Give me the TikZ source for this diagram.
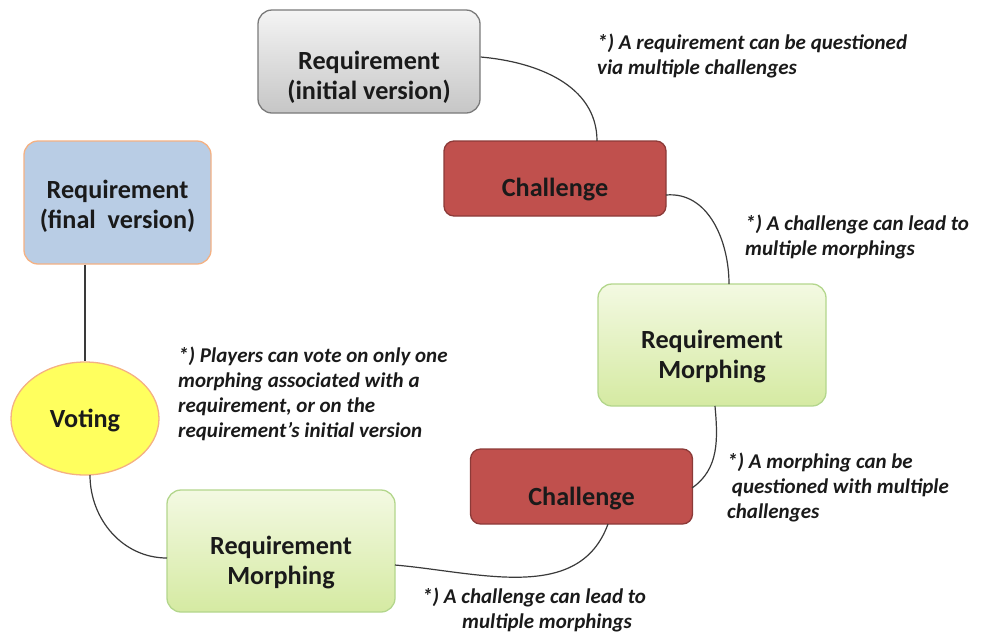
\documentclass[tikz,border=0pt]{standalone}
\usepackage{fontspec}
\setmainfont{Carlito}
\usetikzlibrary{shapes.geometric}
\definecolor{chfill}{HTML}{C0504D}
\definecolor{chdraw}{HTML}{8C3A38}
\definecolor{bluefill}{HTML}{B9CDE5}
\definecolor{peach}{HTML}{F4B183}
\definecolor{yel}{HTML}{FFFF5E}
\definecolor{gtop}{HTML}{F3F9E2}
\definecolor{gbot}{HTML}{D5EAA2}
\definecolor{gdraw}{HTML}{B3D68C}
\definecolor{graytop}{HTML}{F4F4F4}
\definecolor{graybot}{HTML}{C6C6C6}
\definecolor{graydraw}{HTML}{7A7A7A}
\definecolor{linec}{HTML}{3A3A3A}
\definecolor{txt}{HTML}{1A1A1A}
\begin{document}
\begin{tikzpicture}[x=1pt,y=-1pt,
  box/.style={rectangle,rounded corners=14pt,line width=1.3pt,inner sep=0pt},
  grayb/.style={box,draw=graydraw,top color=graytop,bottom color=graybot,minimum width=222pt,minimum height=103pt},
  chalb/.style={box,rounded corners=10pt,draw=chdraw,fill=chfill,minimum width=222pt,minimum height=75pt},
  blueb/.style={box,draw=peach,fill=bluefill,minimum width=187pt,minimum height=123pt},
  greenb/.style={box,draw=gdraw,top color=gtop,bottom color=gbot,minimum width=228pt,minimum height=122pt},
  voteb/.style={ellipse,draw=peach,line width=1.3pt,fill=yel,minimum width=148pt,minimum height=113pt,inner sep=0pt},
  btxt/.style={font=\fontsize{26.2}{30}\selectfont\bfseries,text=txt,align=center,inner sep=0pt},
  note/.style={font=\fontsize{21}{25}\selectfont\bfseries\itshape,text=txt,align=left,anchor=north west,inner sep=0pt},
  conn/.style={draw=linec,line width=1.2pt}
]
\useasboundingbox (0,0) rectangle (984,638);
% boxes
\node[grayb] (ri) at (369,61.5) {};
\node[btxt] (ri-t) at (369,77) {Requirement\\(initial version)};
\node[chalb] (c1) at (555,178.5) {};
\node[btxt] (c1-t) at (555,190) {Challenge};
\node[blueb] (rf) at (117.5,202.5) {};
\node[btxt] (rf-t) at (117.5,206) {Requirement\\(final\ \ version)};
\node[greenb] (m1) at (712,345) {};
\node[btxt] (m1-t) at (712,357) {Requirement\\Morphing};
\node[voteb] (v) at (85,418.5) {};
\node[btxt] (v-t) at (85,420) {Voting};
\node[chalb] (c2) at (581.5,486.5) {};
\node[btxt] (c2-t) at (581.5,499) {Challenge};
\node[greenb] (m2) at (281,551) {};
\node[btxt] (m2-t) at (281,563) {Requirement\\Morphing};
% connectors
\coordinate (c1top) at (597,141);
\coordinate (c1r) at (666,195);
\coordinate (m1top) at (729,284);
\coordinate (m1bot) at (715,406);
\coordinate (c2r) at (692,488);
\coordinate (c2bot) at (608,524);
\coordinate (m2r) at (395,565);
\coordinate (m2l) at (167,558);
\coordinate (vbot) at (90,475);
\draw[conn] (ri.east |- 0,57) to[out=-5,in=90] (c1top);
\draw[conn] (c1r) to[out=5,in=90] (m1top);
\draw[conn] (m1bot) to[out=-85,in=35] (c2r);
\draw[conn] (c2bot) to[out=-110,in=-5] (m2r);
\draw[conn] (vbot) to[out=-90,in=180] (m2l);
\draw[conn] (v.north |- rf.south) -- (v.north);
% notes
\node[note] (n1) at (597,34) {*) A requirement can be questioned\\via multiple challenges};
\node[note] (n2) at (745,215) {*) A challenge can lead to\\multiple morphings};
\node[note] (n3) at (178,347) {*) Players can vote on only one\\morphing associated with a\\requirement, or on the\\requirement’s initial version};
\node[note] (n4) at (727,453) {*) A morphing can be\\\ questioned with multiple\\challenges};
\node[note] (n5) at (422,588) {*) A challenge can lead to\\\hspace*{40pt}multiple morphings};
\end{tikzpicture}
\end{document}
